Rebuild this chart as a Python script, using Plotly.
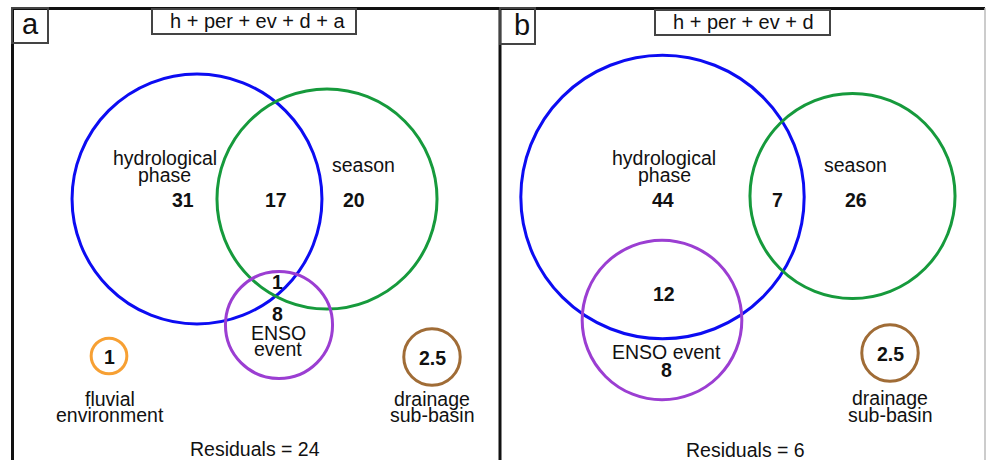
import math
import plotly.graph_objects as go

# Variance partitioning (% explained) for two model sets
model_a = "h + per + ev + d + a"
model_b = "h + per + ev + d"

# panel a region values
a_hydro_only = 31
a_hydro_season = 17
a_season_only = 20
a_hydro_season_enso = 1
a_enso_only = 8
a_fluvial = 1
a_drainage = 2.5
a_residuals = 24

# panel b region values
b_hydro_only = 44
b_hydro_season = 7
b_season_only = 26
b_hydro_enso = 12
b_enso_only = 8
b_drainage = 2.5
b_residuals = 6

# circle totals (area of each circle is proportional to its total)
a_totals = {
    "hydro": a_hydro_only + a_hydro_season + a_hydro_season_enso,
    "season": a_season_only + a_hydro_season + a_hydro_season_enso,
    "enso": a_enso_only + a_hydro_season_enso,
    "fluvial": a_fluvial,
    "drainage": a_drainage,
}
b_totals = {
    "hydro": b_hydro_only + b_hydro_season + b_hydro_enso,
    "season": b_season_only + b_hydro_season,
    "enso": b_enso_only + b_hydro_enso,
    "drainage": b_drainage,
}

COLORS = {
    "hydro": "#0c0cf2",
    "season": "#169a3c",
    "enso": "#9b3ed2",
    "fluvial": "#f7a033",
    "drainage": "#a06c36",
}

SCALE = 17.85  # radius per sqrt(unit)
FONT = "Liberation Sans, Arial, sans-serif"
SIZE = 19.5

a_centers = {
    "hydro": (197, 199),
    "season": (327, 199),
    "enso": (279, 325),
    "fluvial": (109, 356),
    "drainage": (432, 357),
}
b_centers = {
    "hydro": (662.5, 197),
    "season": (852.5, 196),
    "enso": (662, 320),
    "drainage": (890, 353),
}

fig = go.Figure()
shapes = []
annotations = []


def circle(key, total, center):
    r = SCALE * math.sqrt(total)
    cx, cy = center
    shapes.append(dict(type="circle", xref="x", yref="y",
                       x0=cx - r, x1=cx + r, y0=cy - r, y1=cy + r,
                       line=dict(color=COLORS[key], width=3)))


def text(x, y, s, size=SIZE, bold=False):
    annotations.append(dict(x=x, y=y, xref="x", yref="y", text=f"<b>{s}</b>" if bold else s,
                            showarrow=False, xanchor="center", yanchor="middle",
                            font=dict(family=FONT, size=size, color="#111111")))


def fmt(v):
    return f"{v:g}"


for k, t in a_totals.items():
    circle(k, t, a_centers[k])
for k, t in b_totals.items():
    circle(k, t, b_centers[k])

# frames
frame = dict(color="#111111", width=3)
shapes += [
    dict(type="line", xref="x", yref="y", x0=11, x1=985, y0=8.5, y1=8.5, line=frame),
    dict(type="line", xref="x", yref="y", x0=12.5, x1=12.5, y0=8, y1=470, line=frame),
    dict(type="line", xref="x", yref="y", x0=500, x1=500, y0=8, y1=470, line=frame),
    dict(type="line", xref="x", yref="y", x0=985, x1=985, y0=8, y1=470,
         line=dict(color="#bbbbbb", width=1.5)),
]
box = dict(color="#444444", width=2)
shapes += [
    dict(type="rect", xref="x", yref="y", x0=12, x1=48, y0=8, y1=43, line=box),
    dict(type="rect", xref="x", yref="y", x0=500, x1=535, y0=8, y1=44, line=box),
    dict(type="rect", xref="x", yref="y", x0=152, x1=356, y0=9, y1=34, line=box,
         fillcolor="white"),
    dict(type="rect", xref="x", yref="y", x0=655, x1=830, y0=10, y1=35, line=box,
         fillcolor="white"),
]

# panel letters and model titles
text(30, 24, "a", size=29)
text(522, 25, "b", size=29)
text(257, 21, model_a, size=20)
text(743, 22, model_b, size=20)

# panel a labels
text(165, 157.5, "hydrological")
text(164, 175, "phase")
text(183, 200, fmt(a_hydro_only), bold=True)
text(276, 200, fmt(a_hydro_season), bold=True)
text(363, 165, "season")
text(354, 200, fmt(a_season_only), bold=True)
text(277, 282, fmt(a_hydro_season_enso), bold=True)
text(277, 314, fmt(a_enso_only), bold=True)
text(278, 333, "ENSO")
text(278, 348.5, "event")
text(109, 357, fmt(a_fluvial), bold=True)
text(110, 398.5, "fluvial")
text(110, 415, "environment")
text(432, 358, fmt(a_drainage), bold=True)
text(432, 398.5, "drainage")
text(432, 414.5, "sub-basin")
text(255, 449, f"Residuals = {fmt(a_residuals)}")

# panel b labels
text(664, 157.5, "hydrological")
text(664, 175, "phase")
text(663, 200, fmt(b_hydro_only), bold=True)
text(777, 200, fmt(b_hydro_season), bold=True)
text(855, 165, "season")
text(856, 200, fmt(b_season_only), bold=True)
text(664, 294, fmt(b_hydro_enso), bold=True)
text(666, 352, "ENSO event")
text(666, 370, fmt(b_enso_only), bold=True)
text(890, 354, fmt(b_drainage), bold=True)
text(890, 398, "drainage")
text(890, 414.5, "sub-basin")
text(745, 450, f"Residuals = {fmt(b_residuals)}")

fig.update_layout(
    width=987, height=460,
    margin=dict(l=0, r=0, t=0, b=0),
    paper_bgcolor="white", plot_bgcolor="white",
    xaxis=dict(range=[0, 987], visible=False, fixedrange=True),
    yaxis=dict(range=[460, 0], visible=False, fixedrange=True),
    shapes=shapes, annotations=annotations, showlegend=False,
)

fig.write_html("out.html")
